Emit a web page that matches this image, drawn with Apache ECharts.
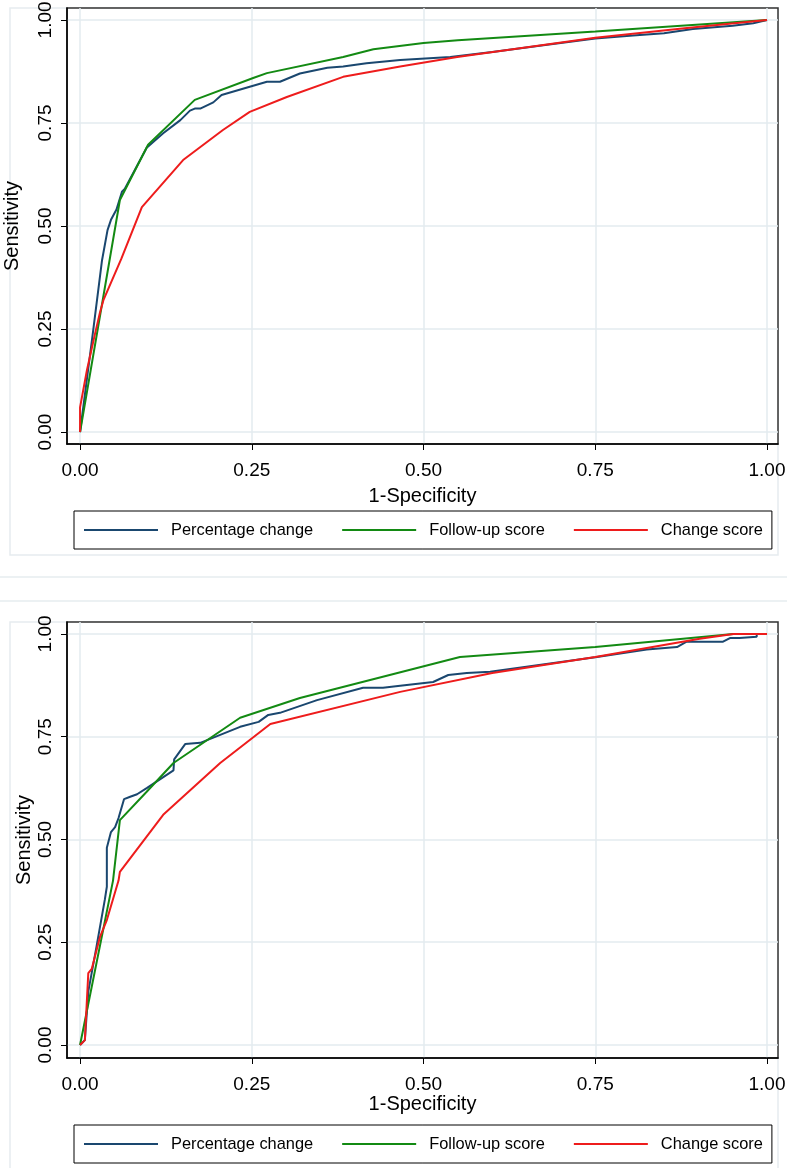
<!DOCTYPE html>
<html>
<head>
<meta charset="utf-8">
<script src="https://cdn.jsdelivr.net/npm/echarts@6/dist/echarts.min.js"></script>
<style>
html,body{margin:0;padding:0;background:#fff;}
#c{width:787px;height:1168px;}
</style>
</head>
<body>
<div id="c"></div>
<script>
// ---- data ----
const seriesNames = ['Percentage change', 'Follow-up score', 'Change score'];
const tickValues = [0, 0.25, 0.5, 0.75, 1];

// Top panel
const topPctX = [0, 0.019, 0.032, 0.040, 0.045, 0.053, 0.061, 0.065, 0.097, 0.121, 0.146, 0.160, 0.167, 0.175, 0.194, 0.206, 0.247, 0.272, 0.291, 0.320, 0.360, 0.383, 0.417, 0.466, 0.539, 0.600, 0.680, 0.750, 0.805, 0.850, 0.892, 0.950, 0.980, 1.0];
const topPctY = [0, 0.245, 0.417, 0.490, 0.515, 0.540, 0.583, 0.590, 0.690, 0.725, 0.757, 0.780, 0.785, 0.785, 0.800, 0.818, 0.838, 0.850, 0.850, 0.870, 0.884, 0.887, 0.895, 0.903, 0.910, 0.922, 0.940, 0.955, 0.962, 0.968, 0.978, 0.986, 0.992, 1.0];
const topFupX = [0, 0.058, 0.099, 0.167, 0.252, 0.272, 0.383, 0.427, 0.500, 0.550, 0.750, 1.0];
const topFupY = [0, 0.563, 0.697, 0.806, 0.859, 0.871, 0.910, 0.929, 0.944, 0.951, 0.972, 1.0];
const topChgX = [0, 0, 0.010, 0.022, 0.029, 0.034, 0.060, 0.090, 0.150, 0.208, 0.247, 0.301, 0.383, 0.466, 0.549, 0.750, 0.880, 1.0];
const topChgY = [0, 0.060, 0.150, 0.240, 0.290, 0.320, 0.420, 0.546, 0.660, 0.733, 0.777, 0.813, 0.862, 0.887, 0.910, 0.957, 0.980, 1.0];

// Bottom panel
const botPctX = [0, 0.007, 0.012, 0.024, 0.036, 0.039, 0.039, 0.045, 0.051, 0.056, 0.064, 0.073, 0.083, 0.097, 0.136, 0.137, 0.153, 0.175, 0.233, 0.260, 0.274, 0.291, 0.345, 0.412, 0.441, 0.466, 0.514, 0.536, 0.563, 0.597, 0.750, 0.825, 0.869, 0.883, 0.936, 0.946, 0.960, 0.985, 0.985, 1.0];
const botPctY = [0, 0.012, 0.130, 0.240, 0.353, 0.385, 0.480, 0.518, 0.530, 0.552, 0.598, 0.604, 0.610, 0.625, 0.668, 0.695, 0.732, 0.735, 0.774, 0.786, 0.803, 0.808, 0.839, 0.869, 0.869, 0.874, 0.883, 0.900, 0.905, 0.908, 0.943, 0.962, 0.968, 0.981, 0.981, 0.990, 0.990, 0.993, 1.0, 1.0];
const botFupX = [0, 0.048, 0.058, 0.097, 0.136, 0.233, 0.320, 0.553, 0.750, 0.951, 1.0];
const botFupY = [0, 0.400, 0.547, 0.616, 0.686, 0.796, 0.844, 0.944, 0.968, 1.0, 1.0];
const botChgX = [0, 0.007, 0.012, 0.017, 0.029, 0.039, 0.056, 0.058, 0.121, 0.204, 0.277, 0.466, 0.600, 0.750, 0.825, 0.902, 0.951, 1.0];
const botChgY = [0, 0.012, 0.175, 0.185, 0.263, 0.304, 0.400, 0.421, 0.560, 0.686, 0.781, 0.859, 0.905, 0.944, 0.966, 0.988, 1.0, 1.0];

// ---- styling ----
const colors = ['#1a476f', '#138a13', '#ee1c1c'];
const FONT = 'Liberation Sans, Arial, sans-serif';
const gridColor = '#e3ebef';

function pairs(xs, ys) { return xs.map((x, i) => [x, ys[i]]); }

function xAxisCfg(gridIndex, gap) {
  return {
    type: 'value', gridIndex: gridIndex,
    min: -0.019, max: 1.016,
    name: '1-Specificity', nameLocation: 'middle', nameGap: gap, nameMoveOverlap: false,
    nameTextStyle: { fontFamily: FONT, fontSize: 20, color: '#000' },
    axisLine: { show: true, onZero: false, lineStyle: { color: '#000', width: 1.5 } },
    axisTick: { show: true, length: 6, customValues: tickValues, lineStyle: { color: '#000', width: 1 } },
    axisLabel: { customValues: tickValues, margin: 17.5, fontFamily: FONT, fontSize: 19, color: '#000',
      formatter: v => v.toFixed(2) },
    splitLine: { show: true, lineStyle: { color: gridColor, width: 1.5 } }
  };
}
function yAxisCfg(gridIndex, min, max, gap) {
  return {
    type: 'value', gridIndex: gridIndex,
    min: min, max: max,
    name: 'Sensitivity', nameLocation: 'middle', nameGap: gap, nameMoveOverlap: false,
    nameTextStyle: { fontFamily: FONT, fontSize: 20, color: '#000' },
    axisLine: { show: true, onZero: false, lineStyle: { color: '#000', width: 1.5 } },
    axisTick: { show: true, length: 6, customValues: tickValues, lineStyle: { color: '#000', width: 1 } },
    axisLabel: { customValues: tickValues, rotate: 90, margin: 12, fontFamily: FONT, fontSize: 19, color: '#000',
      formatter: v => v.toFixed(2) },
    splitLine: { show: true, lineStyle: { color: gridColor, width: 1.5 } }
  };
}
function legendCfg(top) {
  return {
    data: seriesNames, left: 74, top: top,
    orient: 'horizontal', itemGap: 29, itemWidth: 74, itemHeight: 2,
    icon: 'rect',
    padding: [10, 9, 10, 10],
    borderColor: '#000', borderWidth: 1, backgroundColor: '#fff',
    formatter: n => '{s|}' + n,
    textStyle: { fontFamily: FONT, fontSize: 16.4, lineHeight: 18, color: '#000', rich: { s: { width: 8 } } },
    selectedMode: false
  };
}
function lineSeries(name, data, idx, color) {
  return {
    name: name, type: 'line', data: data, xAxisIndex: idx, yAxisIndex: idx,
    symbol: 'none', showSymbol: false, smooth: false,
    lineStyle: { color: color, width: 2 }, itemStyle: { color: color },
    animation: false, silent: true
  };
}

const chart = echarts.init(document.getElementById('c'), null, { renderer: 'canvas', width: 787, height: 1168 });
chart.setOption({
  backgroundColor: '#fff',
  animation: false,
  graphic: [
    { type: 'rect', silent: true, z: -10, shape: { x: 10, y: 8, width: 768, height: 547 }, style: { fill: 'none', stroke: '#e6ecef', lineWidth: 1.5 } },
    { type: 'line', silent: true, z: -10, shape: { x1: 0, y1: 577, x2: 787, y2: 577 }, style: { stroke: '#e6ecef', lineWidth: 1.5 } },
    { type: 'line', silent: true, z: -10, shape: { x1: 0, y1: 601, x2: 787, y2: 601 }, style: { stroke: '#e6ecef', lineWidth: 1.5 } },
    { type: 'rect', silent: true, z: -10, shape: { x: 10, y: 622, width: 768, height: 560 }, style: { fill: 'none', stroke: '#e6ecef', lineWidth: 1.5 } }
  ],
  grid: [
    { left: 67, top: 8, width: 711, height: 436, show: true, borderColor: '#333', borderWidth: 1.5, backgroundColor: '#fff', containLabel: false, outerBoundsMode: 'none' },
    { left: 67, top: 622, width: 711, height: 436, show: true, borderColor: '#333', borderWidth: 1.5, backgroundColor: '#fff', containLabel: false, outerBoundsMode: 'none' }
  ],
  xAxis: [xAxisCfg(0, 42), xAxisCfg(1, 36)],
  yAxis: [yAxisCfg(0, -0.029, 1.029, 45), yAxisCfg(1, -0.0316, 1.029, 33)],
  legend: [legendCfg(511), legendCfg(1125)],
  series: [
    lineSeries(seriesNames[0], pairs(topPctX, topPctY), 0, colors[0]),
    lineSeries(seriesNames[1], pairs(topFupX, topFupY), 0, colors[1]),
    lineSeries(seriesNames[2], pairs(topChgX, topChgY), 0, colors[2]),
    lineSeries(seriesNames[0], pairs(botPctX, botPctY), 1, colors[0]),
    lineSeries(seriesNames[1], pairs(botFupX, botFupY), 1, colors[1]),
    lineSeries(seriesNames[2], pairs(botChgX, botChgY), 1, colors[2])
  ]
});
</script>
</body>
</html>
